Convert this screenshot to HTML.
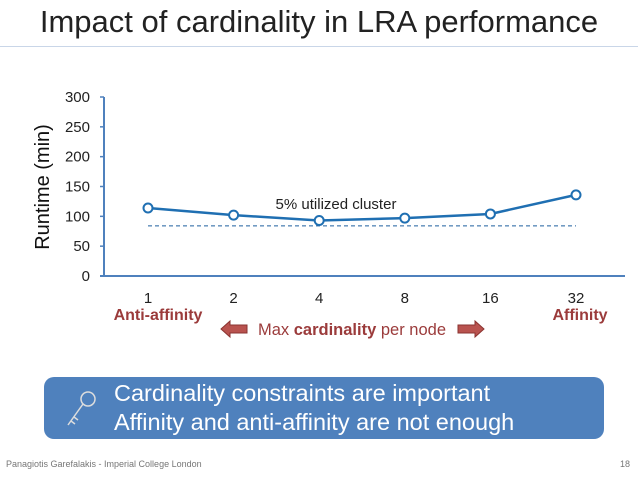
<!DOCTYPE html>
<html><head><meta charset="utf-8"><style>
body{margin:0;width:638px;height:479px;background:#fff;font-family:"Liberation Sans",sans-serif;position:relative;overflow:hidden}
</style></head><body>
<div style="position:absolute;left:0;width:638px;top:4px;text-align:center;font-size:31px;color:#222">Impact of cardinality in LRA performance</div>
<div style="position:absolute;left:0;width:638px;top:46px;height:1px;background:#c9d6e8"></div>
<svg id="chart" width="638" height="479" style="position:absolute;left:0;top:0"></svg>
<div style="position:absolute;left:44px;top:377px;width:560px;height:62px;background:#4f81bd;border-radius:10px;color:#fff;font-size:23.5px;line-height:29px">
<svg width="40" height="50" style="position:absolute;left:18px;top:8px"><circle cx="26" cy="14" r="7" fill="none" stroke="#ddd" stroke-width="1.5"/><line x1="21" y1="19" x2="6" y2="40" stroke="#ddd" stroke-width="1.5"/><line x1="9" y1="36" x2="13" y2="39" stroke="#ddd" stroke-width="1.5"/><line x1="12" y1="32" x2="16" y2="35" stroke="#ddd" stroke-width="1.5"/></svg>
<div style="position:absolute;left:70px;top:2px">Cardinality constraints are important<br>Affinity and anti-affinity are not enough</div></div>
<div style="position:absolute;left:6px;top:459px;font-size:9px;color:#777">Panagiotis Garefalakis - Imperial College London</div>
<div style="position:absolute;right:8px;top:459px;font-size:9px;color:#777">18</div>
<script>
const categories=["1","2","4","8","16","32"];
const runtime=[114,102,93,97,104,136];
const yTicks=[0,50,100,150,200,250,300];
const baseline=84;
const NS="http://www.w3.org/2000/svg";
const svg=document.getElementById('chart');
const x0=104,x1=625,y0=276,y1=97;
const xs=i=>148+i*(576-148)/(categories.length-1);
const ys=v=>y0-(v/300)*(y0-y1);
function mk(t,a,txt){const e=document.createElementNS(NS,t);for(const k in a)e.setAttribute(k,a[k]);if(txt!==undefined)e.textContent=txt;svg.appendChild(e);return e;}
let e;
e=mk('line',{x1:x0,y1:ys(300),x2:x0,y2:y0,stroke:'#4f81bd','stroke-width':2});

e=mk('line',{x1:x0-4,y1:y0,x2:x1,y2:y0,stroke:'#4f81bd','stroke-width':2});

yTicks.forEach(v=>{
 e=mk('line',{x1:x0-4,y1:ys(v),x2:x0,y2:ys(v),stroke:'#4f81bd','stroke-width':1.5});
 
 e=mk('text',{x:90,y:ys(v)+5,'text-anchor':'end','font-size':15,fill:'#222'},v);
 
});
e=mk('text',{x:0,y:0,transform:'translate(49,187) rotate(-90)','text-anchor':'middle','font-size':20,fill:'#111'},'Runtime (min)');

categories.forEach((c,i)=>{
 e=mk('text',{x:xs(i),y:303,'text-anchor':'middle','font-size':15,fill:'#222'},c);
 
});
e=mk('line',{x1:xs(0),y1:ys(baseline),x2:xs(5),y2:ys(baseline),stroke:'#1f5f9f','stroke-width':1,'stroke-dasharray':'4,3'});

e=mk('text',{x:336,y:209,'text-anchor':'middle','font-size':15,fill:'#222'},'5% utilized cluster');

e=mk('polyline',{points:runtime.map((v,i)=>xs(i)+','+ys(v)).join(' '),fill:'none',stroke:'#1f6fb2','stroke-width':2.5});

runtime.forEach((v,i)=>{
 e=mk('circle',{cx:xs(i),cy:ys(v),r:4.5,fill:'#fff',stroke:'#1f6fb2','stroke-width':2});
 
});
e=mk('text',{x:158,y:320,'text-anchor':'middle','font-size':16,'font-weight':'bold',fill:'#9b3b3b'},'Anti-affinity');

e=mk('text',{x:580,y:320,'text-anchor':'middle','font-size':16,'font-weight':'bold',fill:'#9b3b3b'},'Affinity');

e=mk('polygon',{points:'221,329 230,321 230,325 247,325 247,333 230,333 230,337',fill:'#b9534f',stroke:'#8a3330','stroke-width':1});

e=mk('polygon',{points:'484,329 475,321 475,325 458,325 458,333 475,333 475,337',fill:'#b9534f',stroke:'#8a3330','stroke-width':1});

e=mk('text',{x:352,y:335,'text-anchor':'middle','font-size':16.5,fill:'#9b3b3b'});
e.innerHTML='Max <tspan font-weight="bold">cardinality</tspan> per node';

</script>
</body></html>
